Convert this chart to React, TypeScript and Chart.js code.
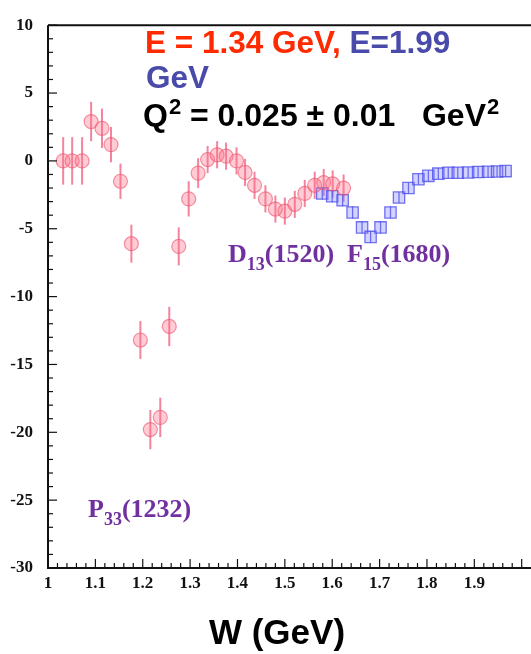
import React, { useEffect, useRef } from 'react';
import { Chart, registerables } from 'chart.js';
Chart.register(...registerables);

// E = 1.34 GeV data (red circles)
const W_RED = [1.032, 1.051, 1.072, 1.091, 1.114, 1.133, 1.153, 1.176, 1.195, 1.216, 1.237, 1.256, 1.276, 1.297, 1.317, 1.337, 1.357, 1.376, 1.398, 1.416, 1.436, 1.459, 1.48, 1.5, 1.521, 1.542, 1.563, 1.582, 1.601, 1.624];
const Y_RED = [0, 0, 0, 2.9, 2.4, 1.2, -1.5, -6.1, -13.2, -19.8, -18.9, -12.2, -6.3, -2.8, -0.9, 0.1, 0.45, 0.35, 0, -0.85, -1.8, -2.8, -3.55, -3.7, -3.2, -2.4, -1.8, -1.6, -1.7, -2.0];
const ERR_RED = [1.75, 1.75, 1.75, 1.45, 1.45, 1.3, 1.3, 1.4, 1.4, 1.45, 1.45, 1.45, 1.4, 1.3, 1.1, 1.0, 1.0, 1.0, 1.0, 1.0, 1.0, 1.0, 1.0, 1.0, 1.0, 1.0, 1.0, 1.0, 1.0, 1.0];

// E = 1.99 GeV data (blue squares)
const W_BLUE = [1.579, 1.6, 1.622, 1.643, 1.663, 1.681, 1.702, 1.723, 1.741, 1.761, 1.782, 1.803, 1.824, 1.845, 1.865, 1.887, 1.908, 1.929, 1.948, 1.966];
const Y_BLUE = [-2.4, -2.6, -2.9, -3.8, -4.9, -5.6, -4.9, -3.8, -2.7, -2.0, -1.35, -1.1, -0.94, -0.87, -0.87, -0.85, -0.82, -0.8, -0.78, -0.75];
const ERR_BLUE = [0.45, 0.45, 0.45, 0.45, 0.45, 0.45, 0.45, 0.45, 0.4, 0.4, 0.4, 0.4, 0.4, 0.4, 0.4, 0.4, 0.4, 0.4, 0.4, 0.4];

// axes
const X_MIN = 1;
const X_MAX = 2;
const X_STEP = 0.1;
const X_MINOR = 0.02;
const Y_MIN = -30;
const Y_MAX = 10;
const Y_STEP = 5;
const Y_MINOR = 1;

const RED_TXT = '#ff2a00';
const BLUE_TXT = '#4a4aab';
const PURPLE = '#7030a0';

export default function App() {
  const ref = useRef<HTMLCanvasElement>(null);

  useEffect(() => {
    document.body.style.margin = '0';
    const canvas = ref.current!;

    const errorBars = {
      id: 'errorBars',
      beforeDatasetsDraw(chart: any) {
        const ctx = chart.ctx;
        const xs = chart.scales.x;
        const ys = chart.scales.y;
        ctx.save();
        chart.data.datasets.forEach((ds: any) => {
          ctx.strokeStyle = ds.errColor;
          ctx.lineWidth = ds.errWidth;
          ds.data.forEach((p: any, j: number) => {
            const e = ds.errors[j];
            const px = xs.getPixelForValue(p.x);
            ctx.beginPath();
            ctx.moveTo(px, ys.getPixelForValue(p.y + e));
            ctx.lineTo(px, ys.getPixelForValue(p.y - e));
            ctx.stroke();
          });
        });
        ctx.restore();
      },
    };

    const frame = {
      id: 'frame',
      afterDraw(chart: any) {
        const ctx = chart.ctx;
        const { left, top, bottom } = chart.chartArea;
        const xs = chart.scales.x;
        const ys = chart.scales.y;
        ctx.save();
        ctx.strokeStyle = '#111';
        // minor / major ticks (inward)
        ctx.lineWidth = 1.2;
        for (let v = Y_MIN; v <= Y_MAX + 1e-9; v += Y_MINOR) {
          const py = ys.getPixelForValue(v);
          const major = Math.abs(v / Y_STEP - Math.round(v / Y_STEP)) < 1e-6;
          ctx.beginPath();
          ctx.moveTo(left, py);
          ctx.lineTo(left + (major ? 9 : 5), py);
          ctx.stroke();
        }
        for (let k = 0; X_MIN + k * X_MINOR <= X_MAX + 1e-9; k++) {
          const v = X_MIN + k * X_MINOR;
          const px = xs.getPixelForValue(v);
          const major = k % Math.round(X_STEP / X_MINOR) === 0;
          ctx.beginPath();
          ctx.moveTo(px, bottom);
          ctx.lineTo(px, bottom - (major ? 9 : 5));
          ctx.stroke();
        }
        // frame lines
        ctx.lineWidth = 2;
        ctx.beginPath();
        ctx.moveTo(left, top);
        ctx.lineTo(chart.width, top);
        ctx.moveTo(left, top);
        ctx.lineTo(left, bottom);
        ctx.lineTo(chart.width, bottom);
        ctx.stroke();

        // header text
        ctx.textBaseline = 'alphabetic';
        ctx.textAlign = 'left';
        const sans = '"Liberation Sans", Arial, sans-serif';
        ctx.font = `bold 31.5px ${sans}`;
        let x = 145;
        ctx.fillStyle = RED_TXT;
        const t1 = 'E = 1.34 GeV, ';
        ctx.fillText(t1, x, 53);
        x += ctx.measureText(t1).width;
        ctx.fillStyle = BLUE_TXT;
        ctx.fillText('E=1.99', x, 53);
        ctx.fillText('GeV', 146, 88);

        ctx.fillStyle = '#000';
        x = 143;
        const qy = 126;
        ctx.font = `bold 32px ${sans}`;
        ctx.fillText('Q', x, qy);
        x += ctx.measureText('Q').width + 1;
        ctx.font = `bold 22px ${sans}`;
        ctx.fillText('2', x, qy - 12);
        x += ctx.measureText('2').width;
        ctx.font = `bold 32px ${sans}`;
        const t2 = ' = 0.025 \u00b1 0.01   GeV';
        ctx.fillText(t2, x, qy);
        x += ctx.measureText(t2).width + 1;
        ctx.font = `bold 22px ${sans}`;
        ctx.fillText('2', x, qy - 12);

        // resonance labels
        const serif = '"Liberation Serif", "Times New Roman", serif';
        const label = (main: string, sub: string, rest: string, lx: number, ly: number) => {
          ctx.fillStyle = PURPLE;
          ctx.font = `bold 26px ${serif}`;
          ctx.fillText(main, lx, ly);
          let cx = lx + ctx.measureText(main).width;
          ctx.font = `bold 18px ${serif}`;
          ctx.fillText(sub, cx, ly + 8);
          cx += ctx.measureText(sub).width;
          ctx.font = `bold 26px ${serif}`;
          ctx.fillText(rest, cx, ly);
        };
        label('D', '13', '(1520)', 228, 262);
        label('F', '15', '(1680)', 347, 262);
        label('P', '33', '(1232)', 88, 517);

        // x title
        ctx.fillStyle = '#000';
        ctx.font = `bold 35px ${sans}`;
        ctx.textAlign = 'center';
        ctx.fillText('W (GeV)', 277, 644);
        ctx.restore();
      },
    };

    const tickFont = { family: '"Liberation Serif", "Times New Roman", serif', size: 17, weight: 'bold' as const };

    const chart = new Chart(canvas, {
      type: 'scatter',
      data: {
        datasets: [
          {
            label: 'E = 1.34 GeV',
            data: W_RED.map((w, i) => ({ x: w, y: Y_RED[i] })),
            pointStyle: 'circle',
            pointRadius: 7,
            backgroundColor: 'rgba(255,110,135,0.35)',
            borderColor: 'rgba(235,80,105,0.6)',
            borderWidth: 1.2,
            errors: ERR_RED,
            errColor: 'rgba(240,80,115,0.7)',
            errWidth: 2,
          } as any,
          {
            label: 'E = 1.99 GeV',
            data: W_BLUE.map((w, i) => ({ x: w, y: Y_BLUE[i] })),
            pointStyle: 'rect',
            pointRadius: 8,
            backgroundColor: 'rgba(130,130,255,0.35)',
            borderColor: 'rgba(80,80,235,0.8)',
            borderWidth: 1.3,
            errors: ERR_BLUE,
            errColor: 'rgba(60,60,220,0.8)',
            errWidth: 1.3,
          } as any,
        ],
      },
      options: {
        responsive: false,
        animation: false,
        devicePixelRatio: 1,
        layout: { padding: { top: 15, right: 3, left: 0, bottom: 0 } },
        plugins: { legend: { display: false }, tooltip: { enabled: false } },
        scales: {
          x: {
            type: 'linear',
            min: X_MIN,
            max: X_MAX,
            grid: { display: false, drawTicks: false },
            border: { display: false },
            ticks: {
              stepSize: X_STEP,
              padding: 5,
              color: '#111',
              font: tickFont,
              maxRotation: 0,
              autoSkip: false,
              callback: (v: any) => (Number(v) >= 1.95 ? '' : String(Number(Number(v).toFixed(1)))),
            },
            afterFit: (s: any) => {
              s.height = 86;
            },
          },
          y: {
            type: 'linear',
            min: Y_MIN,
            max: Y_MAX,
            grid: { display: false, drawTicks: false },
            border: { display: false },
            ticks: {
              stepSize: Y_STEP,
              padding: 15,
              color: '#111',
              font: tickFont,
            },
            afterFit: (s: any) => {
              s.width = 48;
            },
          },
        },
      },
      plugins: [errorBars, frame],
    });
    return () => chart.destroy();
  }, []);

  return <canvas ref={ref} width={531} height={654} style={{ display: 'block' }} />;
}
